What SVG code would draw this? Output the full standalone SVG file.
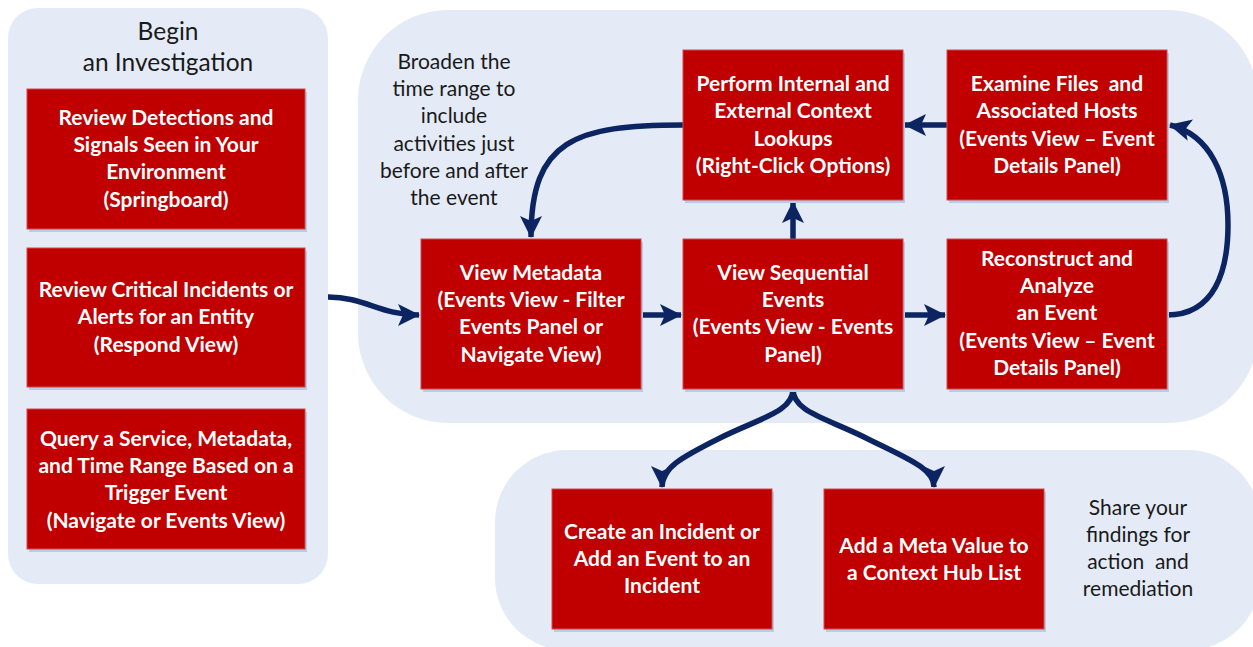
<svg xmlns="http://www.w3.org/2000/svg" width="1253" height="647" viewBox="0 0 1253 647">
<defs>
<style>
.panel{fill:#E4EBF6}
.box{fill:#C00000;stroke:#D2484A;stroke-width:1}
.shadow{fill:#B8CCE6}
.lbl{font-family:Lato,"Liberation Sans",sans-serif;font-weight:bold;font-size:21px;fill:#FFFFFF;text-anchor:middle;white-space:pre}
.note{font-family:Lato,"Liberation Sans",sans-serif;font-size:21px;fill:#1A1A1A;text-anchor:middle;white-space:pre}
.title{font-family:Lato,"Liberation Sans",sans-serif;font-size:24.5px;fill:#1A1A1A;text-anchor:middle}
.conn{fill:none;stroke:#0C2461;stroke-width:5.5;marker-end:url(#ah)}
</style>
<marker id="ah" markerUnits="userSpaceOnUse" markerWidth="26" markerHeight="26" refX="21" refY="13" orient="auto" viewBox="0 0 26 26">
<path d="M0,2 L22,13 L0,24 L5,13 Z" fill="#0C2461"/>
</marker>
</defs>
<rect width="1253" height="647" fill="#FFFFFF"/>
<g id="panels">
<rect class="panel" x="8" y="8" width="320" height="576" rx="30"/>
<rect class="panel" x="358" y="10" width="900" height="413" rx="90"/>
<rect class="panel" x="495" y="450" width="765" height="200" rx="72"/>
</g>
<g id="titles">
<text class="title" x="168" y="40">Begin</text>
<text class="title" x="168" y="71">an Investigation</text>
<text class="note"><tspan x="454" y="69">Broaden the</tspan><tspan x="454" y="96">time range to</tspan><tspan x="454" y="123">include</tspan><tspan x="454" y="151">activities just</tspan><tspan x="454" y="178">before and after</tspan><tspan x="454" y="205">the event</tspan></text>
<text class="note"><tspan x="1138" y="515">Share your</tspan><tspan x="1138" y="542">findings for</tspan><tspan x="1138" y="569">action  and</tspan><tspan x="1138" y="596">remediation</tspan></text>
</g>
<g id="connectors">
<path class="conn" d="M328,297 C365,297 380,315 419,315"/>
<path class="conn" d="M641,315 L681,315"/>
<path class="conn" d="M903,315 L945,315"/>
<path class="conn" d="M793,239 L793,202"/>
<path class="conn" d="M947,125 L905,125"/>
<path class="conn" d="M683,125 C575,125 531,140 531,237"/>
<path class="conn" d="M1167,315 C1215,315 1228,270 1228,225 C1228,175 1210,135 1170,125"/>
<path class="conn" d="M793,389 C793,412 760,418 720,438 C680,458 662,468 662,487"/>
<path class="conn" d="M793,389 C793,412 826,418 866,438 C906,458 934,468 934,487"/>
</g>
<g id="node-review-detections">
<rect class="shadow" x="29" y="92" width="278" height="140"/>
<rect class="box" x="27" y="89" width="278" height="140"/>
<text class="lbl"><tspan x="166" y="125">Review Detections and</tspan><tspan x="166" y="152">Signals Seen in Your</tspan><tspan x="166" y="179">Environment</tspan><tspan x="166" y="207">(Springboard)</tspan></text>
</g>
<g id="node-review-critical">
<rect class="shadow" x="29" y="251" width="278" height="139"/>
<rect class="box" x="27" y="248" width="278" height="139"/>
<text class="lbl"><tspan x="166" y="297">Review Critical Incidents or</tspan><tspan x="166" y="324">Alerts for an Entity</tspan><tspan x="166" y="352">(Respond View)</tspan></text>
</g>
<g id="node-query">
<rect class="shadow" x="29" y="412" width="278" height="140"/>
<rect class="box" x="27" y="409" width="278" height="140"/>
<text class="lbl"><tspan x="166" y="446">Query a Service, Metadata,</tspan><tspan x="166" y="473">and Time Range Based on a</tspan><tspan x="166" y="500">Trigger Event</tspan><tspan x="166" y="528">(Navigate or Events View)</tspan></text>
</g>
<g id="node-perform-lookups">
<rect class="shadow" x="685" y="53" width="220" height="150"/>
<rect class="box" x="683" y="50" width="220" height="150"/>
<text class="lbl"><tspan x="793" y="91">Perform Internal and</tspan><tspan x="793" y="118">External Context</tspan><tspan x="793" y="146">Lookups</tspan><tspan x="793" y="173">(Right-Click Options)</tspan></text>
</g>
<g id="node-examine-files">
<rect class="shadow" x="949" y="53" width="220" height="150"/>
<rect class="box" x="947" y="50" width="220" height="150"/>
<text class="lbl"><tspan x="1057" y="91">Examine Files  and</tspan><tspan x="1057" y="118">Associated Hosts</tspan><tspan x="1057" y="146">(Events View – Event</tspan><tspan x="1057" y="173">Details Panel)</tspan></text>
</g>
<g id="node-view-metadata">
<rect class="shadow" x="423" y="242" width="220" height="150"/>
<rect class="box" x="421" y="239" width="220" height="150"/>
<text class="lbl"><tspan x="531" y="280">View Metadata</tspan><tspan x="531" y="307">(Events View - Filter</tspan><tspan x="531" y="334">Events Panel or</tspan><tspan x="531" y="362">Navigate View)</tspan></text>
</g>
<g id="node-view-sequential">
<rect class="shadow" x="685" y="242" width="220" height="150"/>
<rect class="box" x="683" y="239" width="220" height="150"/>
<text class="lbl"><tspan x="793" y="280">View Sequential</tspan><tspan x="793" y="307">Events</tspan><tspan x="793" y="334">(Events View - Events</tspan><tspan x="793" y="362">Panel)</tspan></text>
</g>
<g id="node-reconstruct">
<rect class="shadow" x="949" y="242" width="220" height="150"/>
<rect class="box" x="947" y="239" width="220" height="150"/>
<text class="lbl"><tspan x="1057" y="266">Reconstruct and</tspan><tspan x="1057" y="293">Analyze</tspan><tspan x="1057" y="320">an Event</tspan><tspan x="1057" y="348">(Events View – Event</tspan><tspan x="1057" y="375">Details Panel)</tspan></text>
</g>
<g id="node-create-incident">
<rect class="shadow" x="554" y="492" width="220" height="140"/>
<rect class="box" x="552" y="489" width="220" height="140"/>
<text class="lbl"><tspan x="662" y="539">Create an Incident or</tspan><tspan x="662" y="566">Add an Event to an</tspan><tspan x="662" y="593">Incident</tspan></text>
</g>
<g id="node-add-meta">
<rect class="shadow" x="826" y="492" width="220" height="140"/>
<rect class="box" x="824" y="489" width="220" height="140"/>
<text class="lbl"><tspan x="934" y="553">Add a Meta Value to</tspan><tspan x="934" y="580">a Context Hub List</tspan></text>
</g>
</svg>
